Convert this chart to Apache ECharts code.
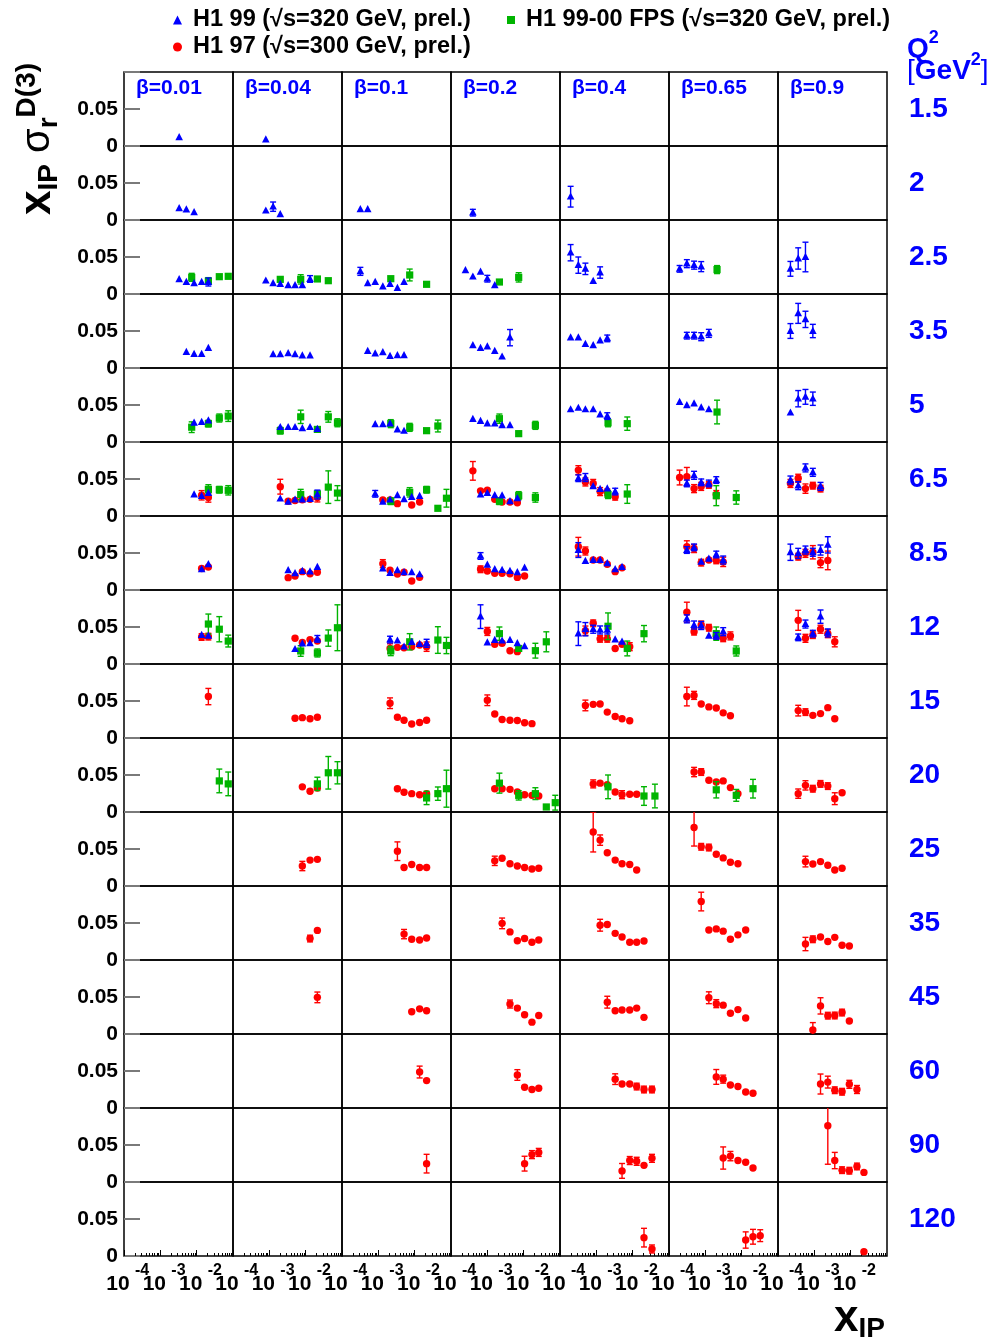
<!DOCTYPE html>
<html><head><meta charset="utf-8">
<script src="https://cdn.jsdelivr.net/npm/echarts@6/dist/echarts.min.js"></script>
<style>html,body{margin:0;padding:0;background:#fff}#c{width:995px;height:1343px}</style>
</head><body><div id="c"></div>
<script>
// ---------------- data ----------------
const betaValues = [0.01, 0.04, 0.1, 0.2, 0.4, 0.65, 0.9];
const betaLabels = ['β=0.01', 'β=0.04', 'β=0.1', 'β=0.2', 'β=0.4', 'β=0.65', 'β=0.9'];
const q2Values = [1.5, 2, 2.5, 3.5, 5, 6.5, 8.5, 12, 15, 20, 25, 35, 45, 60, 90, 120];
const q2Labels = ['1.5', '2', '2.5', '3.5', '5', '6.5', '8.5', '12', '15', '20', '25', '35', '45', '60', '90', '120'];
const xTickValues = [1e-4, 1e-3, 1e-2];
const xTickBase = ['10', '10', '10'];
const xTickExponents = ['-4', '-3', '-2'];
const xMinorTickValues = [2e-4,3e-4,4e-4,5e-4,6e-4,7e-4,8e-4,9e-4,2e-3,3e-3,4e-3,5e-3,6e-3,7e-3,8e-3,9e-3,2e-2,3e-2,4e-2,5e-2,6e-2,7e-2,8e-2,9e-2];
const yTickValues = [0, 0.05];
const yTickLabels = ['0', '0.05'];
const seriesNames = ['H1 99 (√s=320 GeV, prel.)', 'H1 97 (√s=300 GeV, prel.)', 'H1 99-00 FPS (√s=320 GeV, prel.)'];

// each entry: [beta, Q2, [[xIP, xIP*sigma_r^D(3), error], ...]]
const h1_99 = [
[0.01,1.5,[[3.3e-3,.0117,.0012]]],
[0.04,1.5,[[8.0e-4,.0086,.0012]]],
[0.01,2,[[3.3e-3,.0158,.0015],[5.2e-3,.0140,.0015],[8.5e-3,.0104,.0015]]],
[0.04,2,[[8.0e-4,.0126,.0015],[1.27e-3,.018,.0063],[2.0e-3,.0077,.0015]]],
[0.1,2,[[3.2e-4,.0144,.0015],[5.1e-4,.0144,.0015]]],
[0.2,2,[[4.0e-4,.0099,.0045]]],
[0.4,2,[[1.96e-4,.0315,.014]]],
[0.01,2.5,[[3.3e-3,.0198,.0015],[5.2e-3,.0162,.0015],[8.5e-3,.0144,.0015],[0.0137,.0162,.0015],[0.021,.0162,.0054]]],
[0.04,2.5,[[8.0e-4,.018,.0015],[1.27e-3,.0144,.0015],[2.0e-3,.0135,.0015],[3.3e-3,.0117,.0015],[5.1e-3,.0117,.0015],[8.1e-3,.0117,.0015],[0.0132,.0203,.0045]]],
[0.1,2.5,[[3.2e-4,.0306,.0054],[5.1e-4,.0144,.0015],[8.2e-4,.0162,.0015],[1.33e-3,.0099,.0015],[2.1e-3,.0135,.0015],[3.35e-3,.0081,.0015],[5.1e-3,.0162,.0036]]],
[0.2,2.5,[[2.5e-4,.032,.0036],[4.0e-4,.0234,.0015],[6.5e-4,.030,.0036],[1.0e-3,.0207,.0045],[1.6e-3,.0117,.0015]]],
[0.4,2.5,[[1.96e-4,.0558,.011],[3.2e-4,.039,.011],[5.0e-4,.034,.0077],[8.2e-4,.0176,.002],[1.27e-3,.029,.0077]]],
[0.65,2.5,[[1.96e-4,.034,.0045],[3.1e-4,.041,.0054],[4.9e-4,.039,.0054],[7.7e-4,.037,.0068]]],
[0.9,2.5,[[2.2e-4,.034,.01],[3.6e-4,.048,.0144],[5.7e-4,.050,.02]]],
[0.01,3.5,[[5.2e-3,.0216,.0015],[8.5e-3,.0189,.0015],[0.0137,.0189,.0015],[0.021,.027,.0036]]],
[0.04,3.5,[[1.27e-3,.0185,.0015],[2.0e-3,.0185,.0015],[3.3e-3,.0198,.0015],[5.1e-3,.0185,.0015],[8.1e-3,.0167,.0015],[0.0132,.0167,.0015]]],
[0.1,3.5,[[5.1e-4,.023,.0015],[8.2e-4,.0194,.0015],[1.33e-3,.0212,.0015],[2.1e-3,.0162,.0015],[3.35e-3,.0171,.0015],[5.1e-3,.0171,.0015]]],
[0.2,3.5,[[4.0e-4,.0306,.0015],[6.5e-4,.027,.0015],[1.0e-3,.029,.0015],[1.6e-3,.023,.0015],[2.55e-3,.0153,.0015],[4.2e-3,.041,.011]]],
[0.4,3.5,[[1.96e-4,.041,.0036],[3.2e-4,.041,.0036],[5.0e-4,.0324,.0036],[8.2e-4,.0306,.0036],[1.27e-3,.037,.0036],[2.0e-3,.040,.0045]]],
[0.65,3.5,[[3.1e-4,.0437,.0045],[4.9e-4,.0437,.0045],[7.7e-4,.0423,.0054],[1.25e-3,.0468,.0054]]],
[0.9,3.5,[[2.2e-4,.050,.01],[3.6e-4,.0738,.0135],[5.7e-4,.0657,.011],[9.1e-4,.050,.009]]],
[0.01,5,[[8.5e-3,.026,.0015],[0.0137,.027,.0015],[0.021,.029,.0036]]],
[0.04,5,[[2.0e-3,.020,.0015],[3.3e-3,.020,.0015],[5.1e-3,.020,.0015],[8.1e-3,.0185,.0015],[0.0132,.020,.0015],[0.021,.0176,.0015]]],
[0.1,5,[[8.2e-4,.0239,.0015],[1.33e-3,.0239,.0015],[2.1e-3,.0248,.0015],[3.35e-3,.0167,.0015],[5.1e-3,.0149,.0015]]],
[0.2,5,[[4.0e-4,.031,.0015],[6.5e-4,.0284,.0015],[1.0e-3,.0248,.0015],[1.6e-3,.0248,.0015],[2.55e-3,.0225,.0015],[4.2e-3,.0225,.0015]]],
[0.4,5,[[1.96e-4,.044,.003],[3.2e-4,.046,.003],[5.0e-4,.044,.003],[8.2e-4,.044,.003],[1.27e-3,.037,.003],[2.0e-3,.035,.0045]]],
[0.65,5,[[1.96e-4,.054,.003],[3.1e-4,.0495,.003],[4.9e-4,.052,.003],[7.7e-4,.0464,.003],[1.25e-3,.044,.003]]],
[0.9,5,[[2.2e-4,.0396,.0036],[3.6e-4,.0585,.011],[5.7e-4,.061,.01],[9.1e-4,.0585,.009]]],
[0.01,6.5,[[8.5e-3,.029,.0015],[0.0137,.027,.0015],[0.021,.031,.0015]]],
[0.04,6.5,[[2.0e-3,.0234,.0015],[3.3e-3,.019,.0015],[5.1e-3,.022,.0015],[8.1e-3,.022,.0015],[0.0132,.023,.0015],[0.021,.029,.006]]],
[0.1,6.5,[[8.2e-4,.030,.0045],[1.33e-3,.019,.0015],[2.1e-3,.022,.0015],[3.35e-3,.028,.0015],[5.1e-3,.0225,.0015],[8.3e-3,.0257,.0015],[0.0137,.027,.0015]]],
[0.2,6.5,[[6.5e-4,.029,.0015],[1.0e-3,.031,.0015],[1.6e-3,.028,.0015],[2.55e-3,.0275,.0015],[4.2e-3,.0198,.0015],[6.7e-3,.024,.0015]]],
[0.4,6.5,[[3.2e-4,.051,.0045],[5.0e-4,.052,.0054],[8.2e-4,.040,.003],[1.27e-3,.0365,.003],[2.0e-3,.037,.003],[3.3e-3,.033,.0045]]],
[0.65,6.5,[[3.1e-4,.044,.0045],[4.9e-4,.055,.0054],[7.7e-4,.0455,.0045],[1.25e-3,.044,.0045],[2.0e-3,.0486,.0045]]],
[0.9,6.5,[[2.2e-4,.0486,.0054],[3.6e-4,.041,.0054],[5.7e-4,.065,.0054],[9.1e-4,.059,.0054],[1.48e-3,.040,.0054]]],
[0.01,8.5,[[0.0137,.028,.0015],[0.021,.0347,.0036]]],
[0.04,8.5,[[3.3e-3,.0266,.0015],[5.1e-3,.0225,.0015],[8.1e-3,.0257,.0015],[0.0132,.0248,.0015],[0.021,.031,.0036]]],
[0.1,8.5,[[1.33e-3,.029,.0015],[2.1e-3,.023,.0015],[3.35e-3,.0266,.0015],[5.1e-3,.0239,.0015],[8.3e-3,.0239,.0015],[0.0137,.021,.0015]]],
[0.2,8.5,[[6.5e-4,.046,.0045],[1.0e-3,.034,.0015],[1.6e-3,.028,.0015],[2.55e-3,.027,.0015],[4.2e-3,.0257,.0015],[6.7e-3,.024,.0015],[0.0106,.030,.0015]]],
[0.4,8.5,[[3.2e-4,.054,.01],[5.0e-4,.039,.003],[8.2e-4,.0405,.003],[1.27e-3,.0405,.003],[2.0e-3,.036,.003],[3.3e-3,.028,.003],[5.1e-3,.031,.0036]]],
[0.65,8.5,[[3.1e-4,.054,.0045],[4.9e-4,.0576,.0045],[7.7e-4,.038,.003],[1.25e-3,.042,.003],[2.0e-3,.048,.0045],[3.1e-3,.0405,.0054]]],
[0.9,8.5,[[2.2e-4,.051,.011],[3.6e-4,.0495,.0068],[5.7e-4,.054,.0054],[9.1e-4,.051,.0054],[1.48e-3,.054,.0068],[2.35e-3,.061,.011]]],
[0.01,12,[[0.0137,.039,.0015],[0.021,.038,.0015]]],
[0.04,12,[[5.1e-3,.020,.0015],[8.1e-3,.0275,.0015],[0.0132,.028,.0015],[0.021,.034,.0045]]],
[0.1,12,[[2.1e-3,.033,.0045],[3.35e-3,.0315,.0015],[5.1e-3,.0234,.0015],[8.3e-3,.0297,.0015],[0.0137,.027,.0015],[0.0213,.028,.0054]]],
[0.2,12,[[6.5e-4,.064,.016],[1.0e-3,.029,.0015],[1.6e-3,.0324,.0015],[2.55e-3,.0315,.0015],[4.2e-3,.0324,.0015],[6.7e-3,.028,.0015],[0.0106,.024,.0015]]],
[0.4,12,[[3.2e-4,.041,.016],[5.0e-4,.047,.009],[8.2e-4,.047,.0054],[1.27e-3,.046,.0054],[2.0e-3,.046,.0054],[3.3e-3,.033,.002],[5.1e-3,.030,.0036]]],
[0.65,12,[[3.1e-4,.061,.0054],[4.9e-4,.0527,.0054],[7.7e-4,.052,.0054],[1.25e-3,.038,.002],[2.0e-3,.038,.0045],[3.1e-3,.0437,.0054]]],
[0.9,12,[[3.6e-4,.036,.0045],[5.7e-4,.054,.0054],[9.1e-4,.041,.0045],[1.48e-3,.064,.009],[2.35e-3,.042,.0054]]]
];

const h1_97 = [
[0.01,6.5,[[0.0137,.028,.0063],[0.021,.025,.0063]]],
[0.04,6.5,[[2.0e-3,.0396,.01],[3.3e-3,.020,.0015],[5.1e-3,.021,.0015],[8.1e-3,.022,.0015],[0.0132,.0225,.0015],[0.021,.025,.006]]],
[0.1,6.5,[[1.33e-3,.0216,.0015],[2.1e-3,.0216,.0015],[3.35e-3,.0167,.0015],[8.3e-3,.0149,.0015],[0.0137,.019,.0015]]],
[0.2,6.5,[[4.0e-4,.061,.0126],[6.5e-4,.034,.0036],[1.0e-3,.035,.0036],[1.6e-3,.0225,.0015],[2.55e-3,.019,.0015],[4.2e-3,.019,.0015],[6.7e-3,.018,.0036]]],
[0.4,6.5,[[3.2e-4,.062,.006],[5.0e-4,.046,.0054],[8.2e-4,.044,.0054],[1.27e-3,.033,.0054],[2.0e-3,.032,.0045],[3.3e-3,.026,.0045]]],
[0.65,6.5,[[1.96e-4,.052,.01],[3.1e-4,.053,.0126],[4.9e-4,.037,.0054],[7.7e-4,.040,.0054],[1.25e-3,.042,.0045],[2.0e-3,.029,.0054]]],
[0.9,6.5,[[2.2e-4,.044,.0054],[3.6e-4,.051,.0054],[5.7e-4,.037,.0063],[9.1e-4,.041,.0045],[1.48e-3,.037,.0045]]],
[0.01,8.5,[[0.0137,.029,.0036],[0.021,.031,.0036]]],
[0.04,8.5,[[3.3e-3,.0167,.0015],[5.1e-3,.019,.0015],[8.1e-3,.0248,.0015],[0.0132,.022,.0015],[0.021,.0239,.0036]]],
[0.1,8.5,[[1.33e-3,.0356,.0054],[2.1e-3,.0266,.0036],[3.35e-3,.0216,.0015],[5.1e-3,.0239,.0015],[8.3e-3,.0122,.0015],[0.0137,.0171,.0015]]],
[0.2,8.5,[[6.5e-4,.028,.0045],[1.0e-3,.0257,.0015],[1.6e-3,.0225,.0015],[2.55e-3,.0225,.0015],[4.2e-3,.022,.0015],[6.7e-3,.017,.0015],[0.0106,.019,.0015]]],
[0.4,8.5,[[3.2e-4,.0585,.0126],[5.0e-4,.0527,.0054],[8.2e-4,.0405,.002],[1.27e-3,.0405,.002],[2.0e-3,.0347,.002],[3.3e-3,.0248,.002],[5.1e-3,.030,.002]]],
[0.65,8.5,[[3.1e-4,.0585,.008],[4.9e-4,.056,.0054],[7.7e-4,.037,.0045],[1.25e-3,.0405,.0036],[2.0e-3,.040,.0045],[3.1e-3,.038,.0063]]],
[0.9,8.5,[[3.6e-4,.045,.0045],[5.7e-4,.0495,.0054],[9.1e-4,.051,.009],[1.48e-3,.037,.0068],[2.35e-3,.040,.0126]]],
[0.01,12,[[0.0137,.0365,.0045],[0.021,.037,.0045]]],
[0.04,12,[[5.1e-3,.0347,.0036],[8.1e-3,.029,.0015],[0.0132,.033,.0036],[0.021,.031,.0036]]],
[0.1,12,[[2.1e-3,.021,.0063],[3.35e-3,.0225,.0015],[5.1e-3,.022,.0015],[8.3e-3,.0234,.0015],[0.0137,.0257,.0015],[0.0213,.0234,.0063]]],
[0.2,12,[[1.0e-3,.044,.0054],[1.6e-3,.0266,.0015],[2.55e-3,.028,.0015],[4.2e-3,.018,.0015],[6.7e-3,.0167,.0015]]],
[0.4,12,[[5.0e-4,.045,.0063],[8.2e-4,.055,.0045],[1.27e-3,.034,.0045],[2.0e-3,.034,.0045],[3.3e-3,.021,.0015],[5.1e-3,.0266,.0036],[8.3e-3,.0234,.0054]]],
[0.65,12,[[3.1e-4,.070,.0135],[4.9e-4,.0437,.0045],[7.7e-4,.0527,.0054],[1.25e-3,.049,.0045],[2.0e-3,.038,.0045],[3.1e-3,.0347,.0045],[4.9e-3,.038,.0054]]],
[0.9,12,[[3.6e-4,.059,.0135],[5.7e-4,.0347,.0054],[9.1e-4,.039,.0045],[1.48e-3,.047,.0054],[2.35e-3,.041,.0054],[3.65e-3,.030,.0068]]],
[0.01,15,[[0.021,.056,.011]]],
[0.04,15,[[5.1e-3,.0266,.0036],[8.1e-3,.0275,.0015],[0.0132,.026,.0015],[0.021,.028,.0015]]],
[0.1,15,[[2.1e-3,.047,.0072],[3.35e-3,.028,.0015],[5.1e-3,.024,.0015],[8.3e-3,.019,.0015],[0.0137,.021,.0015],[0.0213,.024,.0015]]],
[0.2,15,[[1.0e-3,.051,.0072],[1.6e-3,.0324,.0015],[2.55e-3,.025,.0015],[4.2e-3,.024,.0015],[6.7e-3,.0236,.0015],[0.0106,.0207,.0015],[0.0169,.0194,.0015]]],
[0.4,15,[[5.0e-4,.044,.0072],[8.2e-4,.0455,.0015],[1.27e-3,.046,.0015],[2.0e-3,.035,.0015],[3.3e-3,.029,.0015],[5.1e-3,.026,.0015],[8.3e-3,.0234,.0015]]],
[0.65,15,[[3.1e-4,.056,.0126],[4.9e-4,.0576,.0054],[7.7e-4,.046,.0015],[1.25e-3,.042,.0015],[2.0e-3,.0405,.0015],[3.1e-3,.034,.0015],[4.9e-3,.030,.0015]]],
[0.9,15,[[3.6e-4,.037,.0072],[5.7e-4,.035,.0045],[9.1e-4,.0306,.0036],[1.48e-3,.033,.0015],[2.35e-3,.041,.0036],[3.65e-3,.026,.0015]]],
[0.04,20,[[8.1e-3,.034,.0015],[0.0132,.028,.0015],[0.021,.0324,.0015]]],
[0.1,20,[[3.35e-3,.0315,.0015],[5.1e-3,.0266,.0015],[8.3e-3,.0248,.0015],[0.0137,.0234,.0015],[0.0213,.0248,.0015]]],
[0.2,20,[[1.6e-3,.0315,.0015],[2.55e-3,.0315,.0015],[4.2e-3,.0306,.0015],[6.7e-3,.027,.0015],[0.0106,.0234,.0015],[0.0169,.0225,.0015],[0.026,.0216,.0015]]],
[0.4,20,[[8.2e-4,.038,.0054],[1.27e-3,.039,.0015],[2.0e-3,.037,.0015],[3.3e-3,.027,.0015],[5.1e-3,.0234,.0054],[8.3e-3,.024,.0015],[0.0129,.024,.0015]]],
[0.65,20,[[4.9e-4,.054,.0063],[7.7e-4,.054,.0045],[1.25e-3,.043,.0015],[2.0e-3,.0405,.0015],[3.1e-3,.042,.0015],[4.9e-3,.033,.0015],[7.9e-3,.0248,.0015]]],
[0.9,20,[[3.6e-4,.0248,.0063],[5.7e-4,.036,.0063],[9.1e-4,.0315,.0045],[1.48e-3,.038,.0045],[2.35e-3,.035,.0045],[3.65e-3,.018,.008],[5.8e-3,.026,.0036]]],
[0.04,25,[[8.1e-3,.027,.0063],[0.0132,.035,.0015],[0.021,.036,.0015]]],
[0.1,25,[[3.35e-3,.047,.0126],[5.1e-3,.025,.0015],[8.3e-3,.029,.0015],[0.0137,.025,.0015],[0.0213,.025,.0015]]],
[0.2,25,[[1.6e-3,.034,.0063],[2.55e-3,.0375,.0015],[4.2e-3,.030,.0015],[6.7e-3,.027,.0015],[0.0106,.025,.0015],[0.0169,.023,.0015],[0.026,.024,.0015]]],
[0.4,25,[[8.2e-4,.073,.027],[1.27e-3,.062,.007],[2.0e-3,.045,.0015],[3.3e-3,.035,.0015],[5.1e-3,.030,.0015],[8.3e-3,.029,.0015],[0.0129,.0216,.0015]]],
[0.65,25,[[4.9e-4,.079,.025],[7.7e-4,.053,.0045],[1.25e-3,.052,.0045],[2.0e-3,.043,.0015],[3.1e-3,.038,.0015],[4.9e-3,.032,.0015],[7.9e-3,.030,.0015]]],
[0.9,25,[[5.7e-4,.033,.0072],[9.1e-4,.0297,.0036],[1.48e-3,.033,.0036],[2.35e-3,.028,.0015],[3.65e-3,.0216,.0015],[5.8e-3,.024,.0015]]],
[0.04,35,[[0.0132,.029,.0045],[0.021,.040,.0036]]],
[0.1,35,[[5.1e-3,.035,.0063],[8.3e-3,.028,.0015],[0.0137,.027,.0015],[0.0213,.0297,.0015]]],
[0.2,35,[[2.55e-3,.0495,.0072],[4.2e-3,.038,.0015],[6.7e-3,.026,.0015],[0.0106,.029,.0015],[0.0169,.024,.0015],[0.026,.027,.0015]]],
[0.4,35,[[1.27e-3,.047,.008],[2.0e-3,.048,.0015],[3.3e-3,.036,.0015],[5.1e-3,.031,.0015],[8.3e-3,.024,.0015],[0.0129,.024,.0015],[0.0205,.0257,.0015]]],
[0.65,35,[[7.7e-4,.079,.0126],[1.25e-3,.0405,.0036],[2.0e-3,.042,.0036],[3.1e-3,.039,.0015],[4.9e-3,.028,.0015],[7.9e-3,.034,.0036],[0.0129,.0405,.0036]]],
[0.9,35,[[5.7e-4,.0216,.009],[9.1e-4,.028,.0045],[1.48e-3,.031,.0036],[2.35e-3,.025,.0015],[3.65e-3,.0306,.0036],[5.8e-3,.020,.0015],[9.2e-3,.019,.0015]]],
[0.04,45,[[0.021,.0495,.0072]]],
[0.1,45,[[8.3e-3,.030,.0036],[0.0137,.034,.0015],[0.0213,.0315,.0036]]],
[0.2,45,[[4.2e-3,.0405,.0054],[6.7e-3,.035,.0015],[0.0106,.026,.0015],[0.0169,.016,.0015],[0.026,.025,.0015]]],
[0.4,45,[[2.0e-3,.043,.008],[3.3e-3,.0315,.0036],[5.1e-3,.0324,.0036],[8.3e-3,.0324,.0036],[0.0129,.035,.0036],[0.0205,.0225,.0015]]],
[0.65,45,[[1.25e-3,.049,.008],[2.0e-3,.041,.0054],[3.1e-3,.039,.0036],[4.9e-3,.028,.0015],[7.9e-3,.033,.0036],[0.0129,.0216,.0015]]],
[0.9,45,[[9.1e-4,.0054,.01],[1.48e-3,.038,.011],[2.35e-3,.0248,.0045],[3.65e-3,.025,.0045],[5.8e-3,.029,.0045],[9.2e-3,.0176,.0036]]],
[0.1,60,[[0.0137,.0486,.008],[0.0213,.037,.0036]]],
[0.2,60,[[6.7e-3,.0446,.0072],[0.0106,.028,.0015],[0.0169,.025,.0015],[0.026,.0266,.0015]]],
[0.4,60,[[3.3e-3,.039,.0072],[5.1e-3,.0324,.0036],[8.3e-3,.0324,.0036],[0.0129,.029,.0045],[0.0205,.025,.0045],[0.034,.025,.0045]]],
[0.65,60,[[2.0e-3,.042,.01],[3.1e-3,.039,.0054],[4.9e-3,.031,.0036],[7.9e-3,.029,.0036],[0.0129,.0216,.0015],[0.0205,.020,.0036]]],
[0.9,60,[[1.48e-3,.0324,.0135],[2.35e-3,.035,.008],[3.65e-3,.024,.0045],[5.8e-3,.022,.0045],[9.2e-3,.032,.0054],[0.0149,.025,.0054]]],
[0.1,90,[[0.0213,.0248,.0126]]],
[0.2,90,[[0.0106,.0248,.01],[0.0169,.037,.0054],[0.026,.040,.0054]]],
[0.4,90,[[5.1e-3,.015,.01],[8.3e-3,.029,.0054],[0.0129,.028,.0054],[0.0205,.0225,.0036],[0.034,.032,.0054]]],
[0.65,90,[[3.1e-3,.0324,.015],[4.9e-3,.035,.0063],[7.9e-3,.029,.0036],[0.0129,.0266,.0036],[0.0205,.019,.0015]]],
[0.9,90,[[2.35e-3,.076,.052],[3.65e-3,.029,.011],[5.8e-3,.016,.0045],[9.2e-3,.0153,.0045],[0.0149,.021,.0045],[0.0232,.013,.0036]]],
[0.4,120,[[0.0205,.0248,.0126],[0.034,.0095,.0054]]],
[0.65,120,[[0.0129,.0216,.011],[0.0205,.026,.01],[0.0324,.0275,.008]]],
[0.9,120,[[0.0232,.0059,.0036]]]
];

const h1_fps = [
[0.01,2.5,[[7.3e-3,.0225,.0054],[0.021,.0176,.0045],[0.042,.0234,.0036],[0.074,.0239,.0036]]],
[0.04,2.5,[[2.0e-3,.0198,.0036],[7.3e-3,.0198,.0063],[0.021,.0203,.0036],[0.042,.018,.0036]]],
[0.1,2.5,[[2.2e-3,.0207,.0036],[7.3e-3,.0257,.008],[0.0213,.0131,.002]]],
[0.2,2.5,[[2.15e-3,.0162,.003],[7.3e-3,.0225,.0063]]],
[0.65,2.5,[[2.1e-3,.033,.0054]]],
[0.01,5,[[7.3e-3,.020,.0072],[0.021,.0248,.0045],[0.042,.0324,.0054],[0.074,.035,.0072]]],
[0.04,5,[[2.0e-3,.0153,.0045],[7.3e-3,.034,.009],[0.021,.017,.0036],[0.042,.034,.0072],[0.075,.026,.0054]]],
[0.1,5,[[2.2e-3,.0248,.0054],[7.3e-3,.0198,.0054],[0.0213,.0153,.003],[0.0435,.0216,.008]]],
[0.2,5,[[2.15e-3,.0315,.0063],[7.3e-3,.0113,.0036],[0.021,.0225,.0054]]],
[0.4,5,[[2.1e-3,.026,.0054],[7.1e-3,.0248,.009]]],
[0.65,5,[[2.1e-3,.0405,.016]]],
[0.01,6.5,[[0.021,.036,.0063],[0.042,.0355,.0045],[0.074,.0347,.0063]]],
[0.04,6.5,[[7.3e-3,.029,.007],[0.021,.0297,.0045],[0.042,.039,.022],[0.075,.031,.01]]],
[0.1,6.5,[[2.2e-3,.020,.0045],[7.3e-3,.032,.0063],[0.0213,.0355,.0045],[0.0435,.0104,.003],[0.075,.024,.012]]],
[0.2,6.5,[[2.15e-3,.020,.0045],[7.3e-3,.0275,.0054],[0.021,.025,.0063]]],
[0.4,6.5,[[2.1e-3,.029,.0054],[7.1e-3,.0297,.0126]]],
[0.65,6.5,[[2.0e-3,.0275,.0135],[7.1e-3,.025,.009]]],
[0.01,12,[[0.021,.054,.0135],[0.042,.047,.017],[0.074,.031,.008]]],
[0.04,12,[[7.3e-3,.0176,.0072],[0.021,.0149,.0054],[0.042,.035,.011],[0.075,.049,.031]]],
[0.1,12,[[2.2e-3,.0176,.0063],[7.3e-3,.030,.011],[0.0435,.0324,.018],[0.075,.025,.011]]],
[0.2,12,[[2.15e-3,.041,.009],[7.3e-3,.021,.0036],[0.021,.018,.01],[0.042,.030,.0135]]],
[0.4,12,[[2.1e-3,.051,.018],[7.1e-3,.021,.01],[0.0205,.041,.011]]],
[0.65,12,[[2.0e-3,.041,.009],[7.1e-3,.0176,.0068]]],
[0.01,20,[[0.042,.042,.016],[0.074,.038,.016]]],
[0.04,20,[[0.021,.038,.009],[0.042,.053,.022],[0.075,.053,.015]]],
[0.1,20,[[0.0213,.019,.009],[0.0435,.0248,.009],[0.075,.0315,.025]]],
[0.2,20,[[2.15e-3,.039,.0135],[7.3e-3,.0225,.0063],[0.021,.0248,.008],[0.042,.0068,.003],[0.074,.0126,.01]]],
[0.4,20,[[2.1e-3,.034,.016],[0.0205,.0216,.0126],[0.041,.0216,.016]]],
[0.65,20,[[2.0e-3,.030,.011],[7.1e-3,.0225,.008],[0.0205,.0315,.0126]]]
];

// ---------------- layout / style ----------------
const FONT = '"Liberation Sans", Arial, Helvetica, sans-serif';
const GL = 124, GT = 72, CW = 109, RH = 74;
const NR = q2Values.length, NC = betaValues.length;
const BLUE = '#0000ff', RED = '#ff0000', GREEN = '#00b400';

function tickIndex(v) {
  return xTickValues.findIndex(t => Math.abs(Math.log10(t) - Math.log10(v)) < 1e-6);
}

const grids = [], xAxes = [], yAxes = [], series = [];
const bottomGrids = [];
for (let r = 0; r < NR; r++) {
  for (let c = 0; c < NC; c++) {
    const i = r * NC + c;
    const isBottom = r === NR - 1, isLeft = c === 0;
    grids.push({left: GL + c * CW, top: GT + r * RH, width: CW, height: RH,
      show: true, borderColor: '#000', borderWidth: 1.5, backgroundColor: 'transparent'});
    xAxes.push({
      gridIndex: i, type: 'log', logBase: 10, min: 1e-4, max: 0.1, position: 'bottom',
      axisLine: {show: false}, splitLine: {show: false},
      axisTick: {show: isBottom, inside: true, length: 6, customValues: xTickValues, lineStyle: {color: '#000', width: 1}},
      axisLabel: {
        show: isBottom, customValues: xTickValues, margin: 18, align: 'center', padding: [0, 12, 0, 0],
        fontSize: 21, lineHeight: 20, fontWeight: 'bold', fontFamily: FONT, color: '#000',
        formatter: function (v) { const k = tickIndex(v); return k < 0 ? '' : xTickBase[k]; }
      }
    });
    if (isBottom) bottomGrids.push(i);
    yAxes.push({
      gridIndex: i, type: 'value', min: 0, max: 0.1, interval: 0.05,
      axisLine: {show: false}, splitLine: {show: false},
      axisTick: {show: isLeft, inside: true, length: 16, lineStyle: {color: '#7a7a7a', width: 2}},
      axisLabel: {
        show: isLeft, margin: 6, color: '#000', fontSize: 21, fontWeight: 'bold', fontFamily: FONT,
        formatter: function (v) {
          const k = yTickValues.findIndex(t => Math.abs(t - v) < 1e-9);
          return k < 0 ? '' : yTickLabels[k];
        }
      }
    });
  }
}
// overall frame used for the Q^2 labels on the right
const OV = NR * NC;
grids.push({left: GL, top: GT, width: NC * CW, height: NR * RH, show: false});
xAxes.push({gridIndex: OV, type: 'value', show: false});
yAxes.push({gridIndex: OV, type: 'category', data: q2Labels, inverse: true, position: 'right',
  axisLine: {show: false}, axisTick: {show: false}, splitLine: {show: false},
  axisLabel: {margin: 22, color: BLUE, fontSize: 28, fontWeight: 'bold', fontFamily: FONT, align: 'left'}});
// second x axis on the bottom row: minor log ticks (2..9 per decade) + superscript exponents
bottomGrids.forEach(function (gi) {
  xAxes.push({gridIndex: gi, type: 'log', logBase: 10, min: 1e-4, max: 0.1, position: 'bottom', offset: 0,
    axisLine: {show: false}, splitLine: {show: false},
    axisTick: {show: true, inside: true, length: 3, customValues: xMinorTickValues, lineStyle: {color: '#000', width: 1}},
    axisLabel: {show: true, customValues: xTickValues, margin: 8, align: 'left', padding: [0, 0, 0, 11],
      fontSize: 16, lineHeight: 14, fontWeight: 'bold', fontFamily: FONT, color: '#000',
      formatter: function (v) { const k = tickIndex(v); return k < 0 ? '' : xTickExponents[k]; }}});
});

function makeRender(shape) {
  return function (params, api) {
    const x = api.value(0), y = api.value(1), e = api.value(2);
    const p = api.coord([x, y]);
    const lo = api.coord([x, y - e]);
    const hi = api.coord([x, y + e]);
    const color = api.visual('color');
    const ls = {stroke: color, lineWidth: 1.4};
    const ch = [];
    if (lo[1] - hi[1] > 6) {
      ch.push({type: 'line', shape: {x1: p[0], y1: lo[1], x2: p[0], y2: hi[1]}, style: ls});
      ch.push({type: 'line', shape: {x1: p[0] - 3, y1: lo[1], x2: p[0] + 3, y2: lo[1]}, style: ls});
      ch.push({type: 'line', shape: {x1: p[0] - 3, y1: hi[1], x2: p[0] + 3, y2: hi[1]}, style: ls});
    }
    if (shape === 'triangle') {
      ch.push({type: 'polygon', shape: {points: [[p[0], p[1] - 4.3], [p[0] - 3.8, p[1] + 2.9], [p[0] + 3.8, p[1] + 2.9]]}, style: {fill: color}});
    } else if (shape === 'circle') {
      ch.push({type: 'circle', shape: {cx: p[0], cy: p[1], r: 3.7}, style: {fill: color}});
    } else {
      ch.push({type: 'rect', shape: {x: p[0] - 3.6, y: p[1] - 3.6, width: 7.2, height: 7.2}, style: {fill: color}});
    }
    return {type: 'group', children: ch};
  };
}

function addSeries(list, name, color, shape, z) {
  list.forEach(function (entry) {
    const c = betaValues.indexOf(entry[0]);
    const r = q2Values.indexOf(entry[1]);
    const i = r * NC + c;
    series.push({
      type: 'custom', name: name, xAxisIndex: i, yAxisIndex: i, clip: true, z: z,
      itemStyle: {color: color}, encode: {x: 0, y: 1},
      renderItem: makeRender(shape), data: entry[2], silent: true
    });
  });
}
addSeries(h1_97, seriesNames[1], RED, 'circle', 2);
addSeries(h1_fps, seriesNames[2], GREEN, 'rect', 3);
addSeries(h1_99, seriesNames[0], BLUE, 'triangle', 4);

const graphics = [];
betaLabels.forEach(function (t, c) {
  graphics.push({type: 'text', x: GL + c * CW + 12, y: 88,
    style: {text: t, fill: BLUE, fontSize: 21, fontWeight: 'bold', fontFamily: FONT, verticalAlign: 'middle'}});
});
graphics.push({type: 'text', x: 907, y: 46,
  style: {text: '{q|Q}{s|2}', verticalAlign: 'middle', rich: {
    q: {fontSize: 28, fontWeight: 'bold', fontFamily: FONT, fill: BLUE, lineHeight: 34, verticalAlign: 'bottom'},
    s: {fontSize: 18, fontWeight: 'bold', fontFamily: FONT, fill: BLUE, lineHeight: 16, verticalAlign: 'top'}}}});
graphics.push({type: 'text', x: 907, y: 68,
  style: {text: '{b|[}{q|GeV}{s|2}{b|]}', verticalAlign: 'middle', rich: {
    q: {fontSize: 28, fontWeight: 'bold', fontFamily: FONT, fill: BLUE, lineHeight: 34, verticalAlign: 'bottom'},
    b: {fontSize: 28, fontFamily: FONT, fill: BLUE, lineHeight: 34, verticalAlign: 'bottom'},
    s: {fontSize: 18, fontWeight: 'bold', fontFamily: FONT, fill: BLUE, lineHeight: 16, verticalAlign: 'top'}}}});
// y axis title (rotated)
graphics.push({type: 'text', x: 38, y: 139, rotation: Math.PI / 2,
  style: {text: '{m|x}{sub|IP}{g| σ}{sub|r}{sup|D(3)}', align: 'center', verticalAlign: 'middle', rich: {
    m: {fontSize: 44, fontWeight: 'bold', fontFamily: FONT, fill: '#000', lineHeight: 50, verticalAlign: 'middle'},
    g: {fontSize: 40, fontFamily: FONT, fill: '#000', lineHeight: 50, verticalAlign: 'middle'},
    sub: {fontSize: 28, fontWeight: 'bold', fontFamily: FONT, fill: '#000', lineHeight: 22, verticalAlign: 'bottom'},
    sup: {fontSize: 28, fontWeight: 'bold', fontFamily: FONT, fill: '#000', lineHeight: 22, verticalAlign: 'top'}}}});
// x axis title
graphics.push({type: 'text', x: 834, y: 1343,
  style: {text: '{m|x}{sub|IP}', align: 'left', verticalAlign: 'bottom', rich: {
    m: {fontSize: 44, fontWeight: 'bold', fontFamily: FONT, fill: '#000', lineHeight: 46, verticalAlign: 'top'},
    sub: {fontSize: 28, fontWeight: 'bold', fontFamily: FONT, fill: '#000', lineHeight: 26, verticalAlign: 'bottom'}}}});

const legendText = {fontSize: 23.5, fontWeight: 'bold', fontFamily: FONT, color: '#000', lineHeight: 26, padding: [0, 0, 0, 6]};
const option = {
  animation: false,
  backgroundColor: '#fff',
  grid: grids, xAxis: xAxes, yAxis: yAxes, series: series,
  legend: [
    {left: 168, top: 2, orient: 'vertical', itemGap: 1, itemWidth: 9, itemHeight: 9, selectedMode: false,
      data: [{name: seriesNames[0], icon: 'triangle'}, {name: seriesNames[1], icon: 'circle'}], textStyle: legendText},
    {left: 502, top: 2, orient: 'vertical', itemGap: 1, itemWidth: 8, itemHeight: 8, selectedMode: false,
      data: [{name: seriesNames[2], icon: 'rect'}], textStyle: legendText}
  ],
  graphic: graphics
};
const chart = echarts.init(document.getElementById('c'), null, {renderer: 'canvas', width: 995, height: 1343});
chart.setOption(option);
</script>
</body></html>
